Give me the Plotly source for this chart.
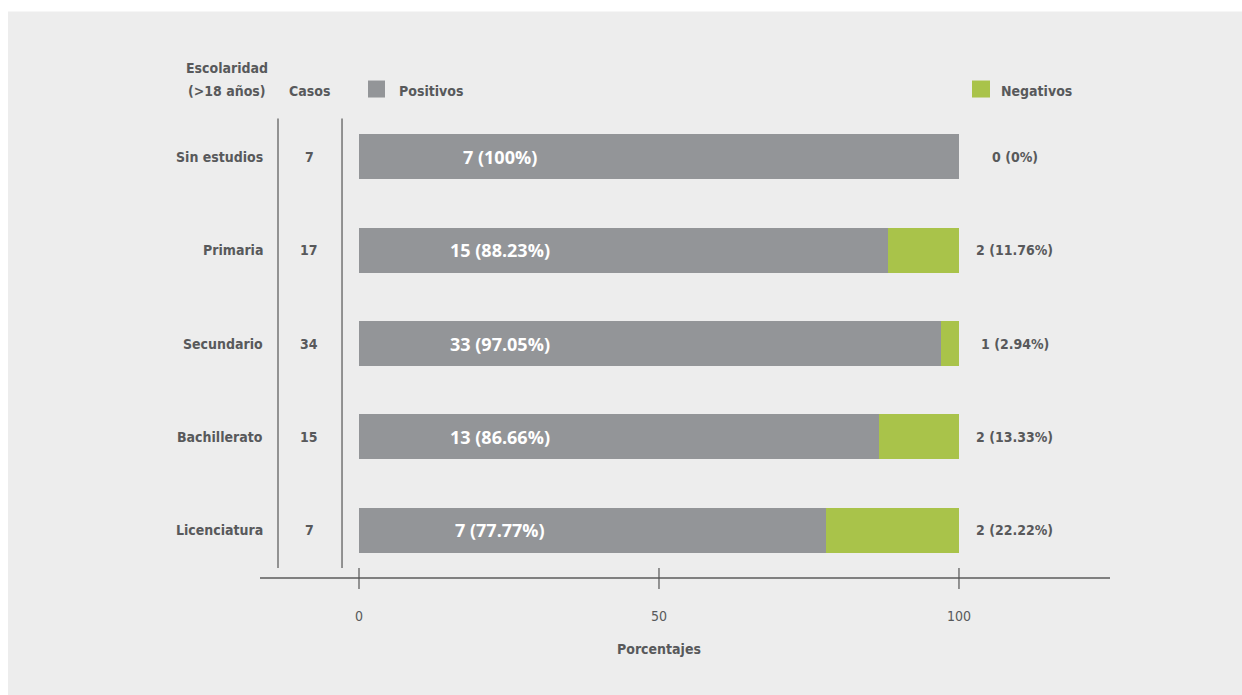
import plotly.graph_objects as go

categories = ["Sin estudios", "Primaria", "Secundario", "Bachillerato", "Licenciatura"]
casos = [7, 17, 34, 15, 7]
pos_n = [7, 15, 33, 13, 7]
pos_pct = [100, 88.23, 97.05, 86.66, 77.77]
neg_n = [0, 2, 1, 2, 2]
neg_pct = [0, 11.76, 2.94, 13.33, 22.22]
xticks = [0, 50, 100]

GRAY = "#939598"
GREEN = "#a9c34a"
TXT = "#58595b"
BG = "#ededed"
COND = "DejaVu Sans Condensed, Roboto"

yidx = list(range(len(categories)))

L, R, T, B = 260, 1110, 109.5, 577
W, H = R - L, B - T
def px(xp):
    return (xp - L) / W
def py(yp):
    return (B - yp) / H

fig = go.Figure()
fig.add_trace(go.Bar(y=yidx, x=pos_pct, orientation="h", marker=dict(color=GRAY, line_width=0),
                     width=0.48, name="Positivos", showlegend=False, hoverinfo="skip"))
fig.add_trace(go.Bar(y=yidx, x=neg_pct, orientation="h", marker=dict(color=GREEN, line_width=0),
                     width=0.48, name="Negativos", showlegend=False, hoverinfo="skip"))

lab_font = dict(family=COND, size=14, color=TXT)
ann = []
for i, c in enumerate(categories):
    ann.append(dict(x=-15.7, y=i, text=f"<b>{c}</b>", xanchor="right", yanchor="middle", showarrow=False,
                    font=lab_font))
    ann.append(dict(x=-8.3, y=i, text=f"<b>{casos[i]}</b>", xanchor="center", yanchor="middle", showarrow=False,
                    font=lab_font))
    ann.append(dict(x=23.5, y=i, text=f"<b>{pos_n[i]} ({pos_pct[i]:g}%)</b>", xanchor="center", yanchor="middle",
                    showarrow=False, font=dict(family="Open Sans", size=18, color="white")))
    ann.append(dict(x=109.3, y=i, text=f"<b>{neg_n[i]} ({neg_pct[i]:g}%)</b>", xanchor="center", yanchor="middle",
                    showarrow=False, font=lab_font))

# headers (paper coords)
ann.append(dict(x=px(227), y=py(67), xref="paper", yref="paper", text="<b>Escolaridad</b>",
                xanchor="center", yanchor="middle", showarrow=False, font=lab_font))
ann.append(dict(x=px(227), y=py(90), xref="paper", yref="paper", text="<b>(>18 años)</b>",
                xanchor="center", yanchor="middle", showarrow=False, font=lab_font))
ann.append(dict(x=-8.3, y=py(90), yref="paper", text="<b>Casos</b>", xanchor="center", yanchor="middle",
                showarrow=False, font=lab_font))
ann.append(dict(x=6.3, y=py(90), yref="paper", text="<b>Positivos</b>", xanchor="left", yanchor="middle",
                showarrow=False, font=lab_font))
ann.append(dict(x=106.7, y=py(90), yref="paper", text="<b>Negativos</b>", xanchor="left", yanchor="middle",
                showarrow=False, font=lab_font))
ann.append(dict(x=50, y=py(649), yref="paper", text="<b>Porcentajes</b>", xanchor="center", yanchor="middle",
                showarrow=False, font=lab_font))

shapes = []
shapes.append(dict(type="rect", xref="paper", yref="paper", x0=px(8), x1=px(1250), y0=py(11), y1=py(700),
                   fillcolor=BG, line_width=0, layer="below"))
shapes.append(dict(type="rect", xref="paper", yref="paper", x0=px(368), x1=px(385), y0=py(80), y1=py(97),
                   fillcolor=GRAY, line_width=0))
shapes.append(dict(type="rect", xref="paper", yref="paper", x0=px(972), x1=px(990), y0=py(80), y1=py(97),
                   fillcolor=GREEN, line_width=0))
for xd in [-13.5, -2.83]:
    shapes.append(dict(type="line", xref="x", yref="paper", x0=xd, x1=xd, y0=py(568), y1=py(118),
                       line=dict(color="#555555", width=1.2)))
for t in xticks:
    shapes.append(dict(type="line", xref="x", yref="paper", x0=t, x1=t, y0=py(589), y1=py(568),
                       line=dict(color="#555555", width=1.2)))

fig.update_layout(
    width=1242, height=695,
    margin=dict(l=L, r=1242 - R, t=T, b=695 - B),
    barmode="stack",
    paper_bgcolor="white", plot_bgcolor="rgba(0,0,0,0)",
    annotations=ann, shapes=shapes,
    xaxis=dict(range=[-16.5, 125.17], tickvals=xticks, ticktext=[str(t) for t in xticks],
               showgrid=False, zeroline=False, showline=True, linecolor="#808080", linewidth=2,
               ticks="", tickfont=dict(family=COND, size=14, color=TXT), ticklabelstandoff=25),
    yaxis=dict(range=[4.5, -0.5], showticklabels=False, showgrid=False, zeroline=False, showline=False,
               ticks=""),
    showlegend=False,
)
fig.write_html("out.html")
